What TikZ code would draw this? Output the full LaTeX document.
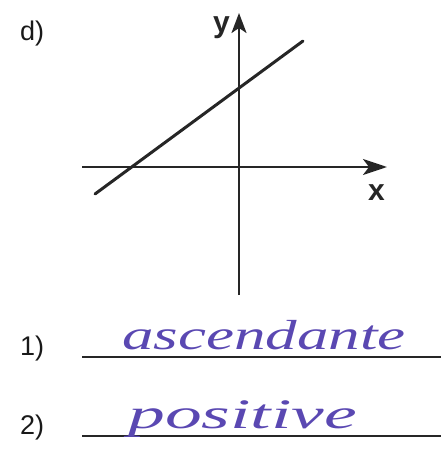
\documentclass[tikz,border=0pt]{standalone}
\usepackage{fontspec}
\setmainfont{Liberation Sans}
\newfontfamily\handfont{Liberation Serif}
\usetikzlibrary{arrows.meta}
\definecolor{ink}{RGB}{90,72,178}
\tikzset{
  axis/.style={line width=2.5pt, black!85},
  graphline/.style={line width=3pt, black!85, line cap=round},
  answerline/.style={line width=1.8pt, black!85},
  lbl/.style={inner sep=0pt, font=\fontsize{27}{30}\selectfont, text=black!90},
  axlbl/.style={inner sep=0pt, font=\fontsize{30}{32}\selectfont\bfseries, text=black!85},
  hand/.style={inner sep=0pt, text=ink, font=\handfont\itshape\fontsize{42}{44}\selectfont}
}
\begin{document}
\begin{tikzpicture}[x=1pt,y=-1pt]
\useasboundingbox (0,0) rectangle (441,465);
% labels
\node[lbl, anchor=north west] (d) at (20,21) {d)};
% axes
\coordinate (xs) at (82,167);
\coordinate (xe) at (387,167);
\coordinate (ys) at (239,295);
\coordinate (ye) at (239,13);
\draw[axis, -{Stealth[length=24pt, width=16pt, inset=6pt]}] (xs) -- (xe);
\draw[axis, -{Stealth[length=20pt, width=15pt, inset=5pt]}] (ys) -- (ye);
\node[axlbl, anchor=base west] (ylab) at (213,33) {y};
\node[axlbl, anchor=base west] (xlab) at (368,200) {x};
% graph line
\coordinate (la) at (95,194);
\coordinate (lb) at (303,41);
\draw[graphline] (la) -- (lb);
% answers
\node[lbl, anchor=base west] (n1) at (20,355) {1)};
\node[lbl, anchor=base west] (n2) at (20,434) {2)};
\coordinate (l1a) at (82,357);
\coordinate (l1b) at (441,357);
\coordinate (l2a) at (82,436);
\coordinate (l2b) at (441,436);
\draw[answerline] (l1a) -- (l1b);
\draw[answerline] (l2a) -- (l2b);
\node[hand, anchor=base west, xscale=1.5] (a1) at (122,349) {ascendante};
\node[hand, anchor=base west, xscale=1.75] (a2) at (128,428) {positive};
\end{tikzpicture}
\end{document}
